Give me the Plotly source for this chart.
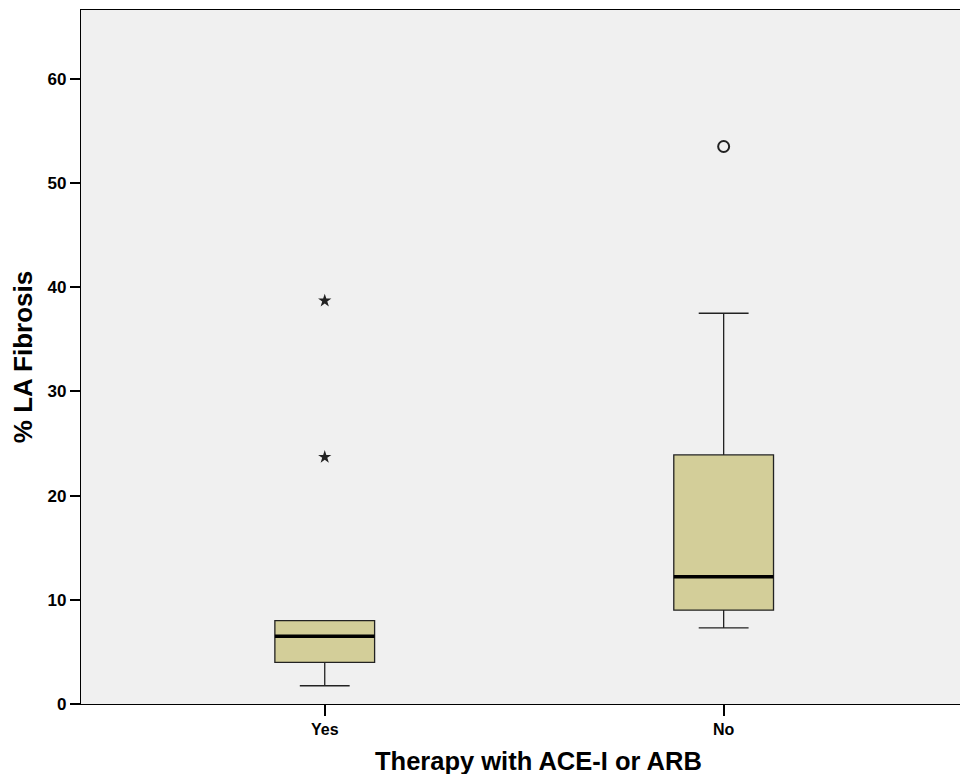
import plotly.graph_objects as go

categories = ["Yes", "No"]
q1 = [4.0, 9.0]
median = [6.5, 12.2]
q3 = [8.0, 23.9]
lower_whisker = [1.75, 7.3]
upper_whisker = [8.0, 37.5]
extreme_outliers = {"Yes": [38.7, 23.7]}   # stars
outliers = {"No": [53.5]}                   # circles
y_ticks = [0, 10, 20, 30, 40, 50, 60]

BOX_W = 0.25
FILL = "#D3CE99"
FONT = "Liberation Sans, Arial, sans-serif"

fig = go.Figure()
for i, c in enumerate(categories):
    fig.add_trace(go.Box(
        x=[i], q1=[q1[i]], median=[median[i]], q3=[q3[i]],
        lowerfence=[lower_whisker[i]], upperfence=[upper_whisker[i]],
        width=BOX_W, whiskerwidth=0.5, fillcolor=FILL,
        line=dict(color="#222222", width=1.3), boxpoints=False,
        showlegend=False, hoverinfo="skip"))
    # thick median line
    fig.add_trace(go.Scatter(
        x=[i - BOX_W / 2, i + BOX_W / 2], y=[median[i], median[i]],
        mode="lines", line=dict(color="black", width=3.5),
        showlegend=False, hoverinfo="skip"))
    if c in extreme_outliers:
        vals = extreme_outliers[c]
        fig.add_trace(go.Scatter(
            x=[i] * len(vals), y=vals, mode="markers",
            marker=dict(symbol="star", size=10, color="#222222"),
            showlegend=False))
    if c in outliers:
        vals = outliers[c]
        fig.add_trace(go.Scatter(
            x=[i] * len(vals), y=vals, mode="markers",
            marker=dict(symbol="circle-open", size=11, color="#222222",
                        line=dict(width=2)),
            showlegend=False))

fig.update_layout(
    width=960, height=766,
    margin=dict(l=73, r=3, t=2, b=70),
    paper_bgcolor="white", plot_bgcolor="#F0F0F0",
    font=dict(family=FONT, color="black"),
    xaxis=dict(
        range=[-0.611, 1.605], tickmode="array", tickvals=[0, 1],
        ticktext=categories, showgrid=False, zeroline=False,
        showline=True, linecolor="black", linewidth=1.2, mirror=True,
        ticks="outside", ticklen=11, tickwidth=2, tickcolor="black",
        tickfont=dict(size=16, family=FONT, weight="bold"),
    ),
    yaxis=dict(
        range=[0, 66.6], tickmode="array", tickvals=y_ticks,
        showgrid=False, zeroline=False,
        showline=True, linecolor="black", linewidth=1.2, mirror=True,
        ticks="outside", ticklen=10, tickwidth=2, tickcolor="black",
        tickfont=dict(size=17, family=FONT, weight="bold"),
        title=dict(text="% LA Fibrosis", standoff=13,
                   font=dict(size=26, family=FONT, weight="bold")),
    ),
    annotations=[dict(
        text="Therapy with ACE-I or ARB", xref="paper", yref="paper",
        x=0.517, y=0, yshift=-57, xanchor="center", yanchor="middle",
        showarrow=False, font=dict(size=25.5, family=FONT, weight="bold"))],
)

fig.write_html("out.html")
